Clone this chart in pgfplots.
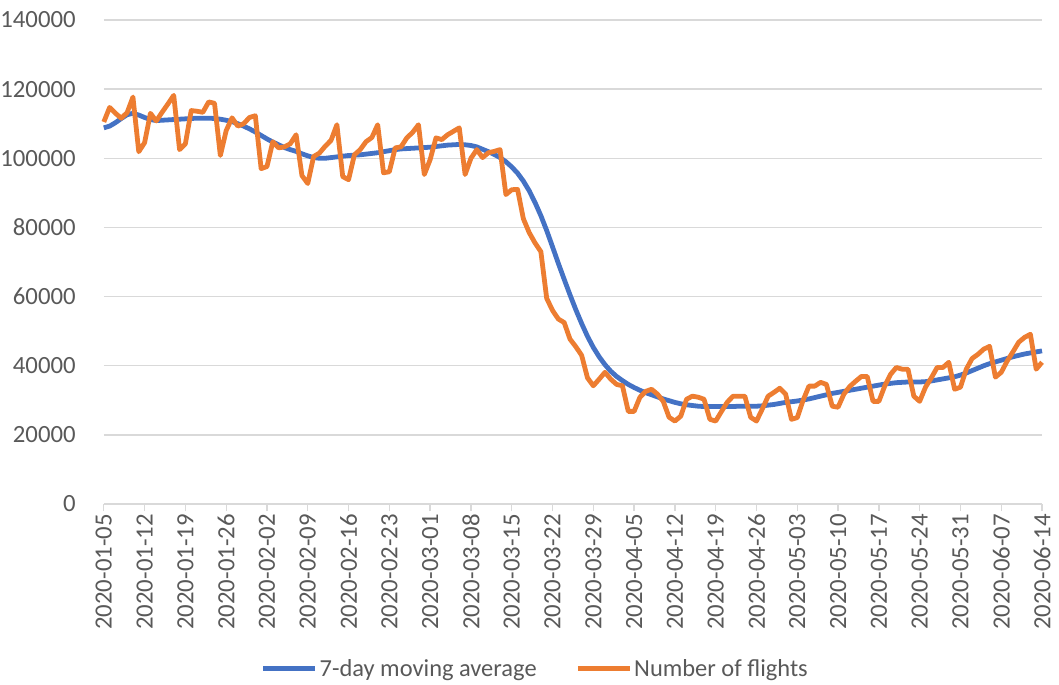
\documentclass[border=0pt]{standalone}
\usepackage{pgfplots}
\usepackage{pgfplotstable}
\pgfplotsset{compat=1.18}
\usepackage{fontspec}
\setmainfont{Carlito}
\definecolor{cblue}{HTML}{4472C4}
\definecolor{corange}{HTML}{ED7D31}
\definecolor{cgrid}{HTML}{D9D9D9}
\definecolor{ctext}{HTML}{595959}
\pgfplotstableread{
d avg flights
0 108800 110500
1 109300 114700
2 110300 113000
3 111500 111600
4 112600 113200
5 113000 117700
6 112500 101900
7 111800 104500
8 111200 113000
9 110900 110800
10 111000 113300
11 111100 115700
12 111200 118200
13 111300 102500
14 111400 104200
15 111500 113800
16 111600 113600
17 111600 113300
18 111600 116300
19 111500 115900
20 111300 100800
21 111000 108000
22 110600 111700
23 110000 109300
24 109300 110000
25 108500 111800
26 107600 112300
27 106600 97000
28 105600 97600
29 104700 104800
30 103900 103000
31 103100 103300
32 102500 104200
33 102000 106800
34 101300 95000
35 100700 92700
36 100200 100500
37 100000 101500
38 100000 103500
39 100200 105200
40 100400 109700
41 100600 94700
42 100800 93800
43 100900 101000
44 101000 102500
45 101200 104800
46 101400 106000
47 101600 109700
48 101900 95800
49 102200 96100
50 102500 103000
51 102700 103300
52 102800 105900
53 102900 107500
54 103000 109700
55 103100 95300
56 103200 99600
57 103400 105900
58 103600 105400
59 103800 106800
60 103900 107800
61 104000 108800
62 103900 95300
63 103700 100000
64 103300 102500
65 102600 100200
66 101900 101600
67 101100 102000
68 100200 102500
69 99000 89500
70 97500 90900
71 95700 91000
72 93400 82500
73 90600 78500
74 87200 75500
75 83400 73000
76 79100 59500
77 74400 56000
78 69600 53500
79 65000 52500
80 60500 47700
81 56200 45500
82 52200 43000
83 48500 36500
84 45300 34200
85 42600 36100
86 40300 38100
87 38400 36100
88 36900 34600
89 35700 34200
90 34600 26800
91 33700 26800
92 32900 30900
93 32200 32600
94 31600 33200
95 31000 31800
96 30400 29700
97 29900 25100
98 29400 24000
99 29000 25400
100 28700 30300
101 28500 31200
102 28300 30900
103 28200 30300
104 28200 24500
105 28200 24000
106 28200 26800
107 28200 29500
108 28200 31200
109 28300 31200
110 28300 31200
111 28300 25100
112 28300 24000
113 28400 27500
114 28600 31200
115 28800 32300
116 29100 33500
117 29400 31800
118 29600 24500
119 29800 25000
120 30100 30000
121 30400 34100
122 30800 34100
123 31200 35200
124 31600 34600
125 32000 28300
126 32300 28000
127 32600 31800
128 32900 34000
129 33200 35500
130 33500 36900
131 33800 36900
132 34100 29700
133 34400 29700
134 34700 34100
135 34900 37500
136 35100 39500
137 35200 39000
138 35300 39000
139 35300 31200
140 35300 29700
141 35400 33800
142 35600 36500
143 35900 39500
144 36200 39500
145 36500 41000
146 36800 33200
147 37300 33800
148 37900 39000
149 38600 42100
150 39300 43300
151 40000 44800
152 40600 45600
153 41100 36700
154 41600 38100
155 42100 41300
156 42600 44000
157 43000 46800
158 43400 48200
159 43700 49100
160 44000 39000
161 44300 41000
}\datatable
\begin{document}
\begin{tikzpicture}
\begin{axis}[
  at={(0pt,0pt)}, anchor=south west,
  scale only axis, width=940pt, height=485pt,
  xmin=0, xmax=161, ymin=0, ymax=140000,
  xtick={0,7,...,161},
  xticklabels={2020-01-05,2020-01-12,2020-01-19,2020-01-26,2020-02-02,2020-02-09,2020-02-16,2020-02-23,2020-03-01,2020-03-08,2020-03-15,2020-03-22,2020-03-29,2020-04-05,2020-04-12,2020-04-19,2020-04-26,2020-05-03,2020-05-10,2020-05-17,2020-05-24,2020-05-31,2020-06-07,2020-06-14},
  ytick={0,20000,40000,60000,80000,100000,120000,140000},
  yticklabels={0,20000,40000,60000,80000,100000,120000,140000},
  scaled y ticks=false, scaled x ticks=false,
  ymajorgrids, grid style={cgrid, line width=1.3pt},
  axis x line*=bottom, axis y line*=left,
  x axis line style={draw=cgrid, line width=1.3pt, -},
  y axis line style={draw=none},
  xtick style={draw=cgrid, line width=1.3pt},
  ytick style={draw=none},
  tick align=outside, major tick length=7pt,
  every tick label/.append style={font=\fontsize{24.8}{29}\selectfont, text=ctext},
  xticklabel style={rotate=90, anchor=east, inner xsep=3pt, inner ysep=0pt},
  yticklabel style={anchor=east, inner sep=0pt, xshift=-21pt},
  legend style={at={(axis description cs:0.46,-0.34)}, anchor=center, draw=none, fill=none,
    font=\fontsize{24.5}{29}\selectfont, text=ctext, legend columns=2,
    /tikz/every even column/.append style={column sep=37pt},
    nodes={inner sep=2pt}},
  legend cell align=left,
  legend image code/.code={\draw[#1, line width=4.8pt] (0pt,0pt) -- (52pt,0pt);},
  clip=false,
]
\addplot[cblue, line width=4.8pt, line join=round] table[x=d, y=avg] {\datatable};
\addlegendentry{7-day moving average}
\addplot[corange, line width=4.8pt, line join=round] table[x=d, y=flights] {\datatable};
\addlegendentry{Number of flights}
\end{axis}
\pgfresetboundingbox
\useasboundingbox (-104pt,-181pt) rectangle (957pt,505pt);
\end{tikzpicture}
\end{document}
